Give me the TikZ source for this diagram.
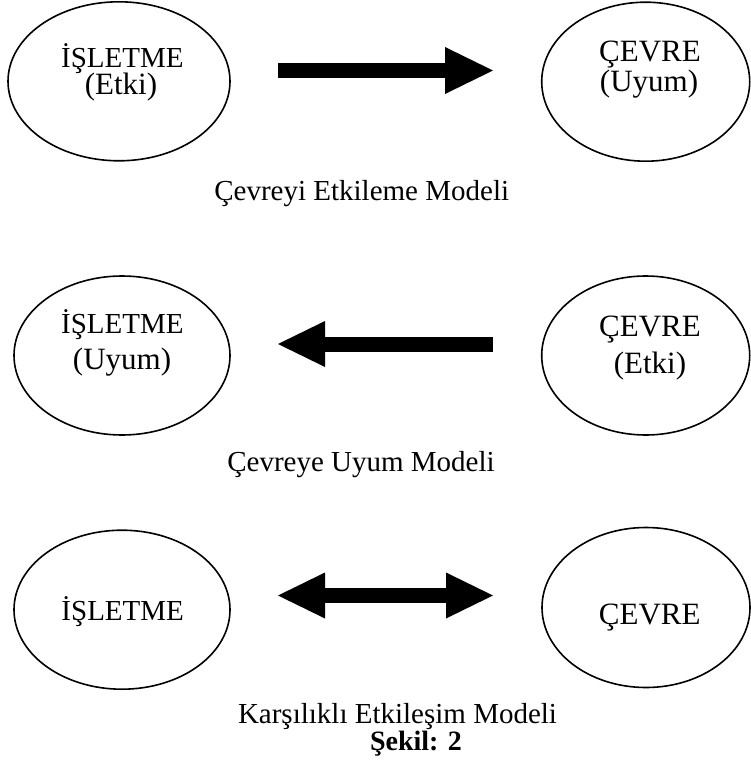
\documentclass[tikz,border=0pt]{standalone}
\usepackage{fontspec}
\setmainfont{Liberation Serif}
\usetikzlibrary{shapes.geometric,arrows.meta}
\begin{document}
\begin{tikzpicture}[x=1pt,y=-1pt,
  ell/.style={draw, ellipse, line width=1.6pt, inner sep=0pt},
  txt/.style={inner sep=0pt, anchor=base, font=\fontsize{29}{29}\selectfont},
  txtb/.style={inner sep=0pt, anchor=base, font=\fontsize{31}{31}\selectfont},
  bigarrow/.style={line width=15pt, -{Triangle[length=48pt,width=47pt,line width=0pt]}},
  bigdarrow/.style={line width=15pt, {Triangle[length=47pt,width=46pt,line width=0pt]}-{Triangle[length=47pt,width=46pt,line width=0pt]}}]
\useasboundingbox (0,0) rectangle (751,765);
% row 1
\node[ell, minimum width=222pt, minimum height=159pt] (e1) at (119,81.3) {};
\node[ell, minimum width=208pt, minimum height=159pt] (e2) at (645.7,81.7) {};
\node[txt] (t1a) at (122.4,67.3) {İŞLETME};
\node[txtb] (t1b) at (121,95) {(Etki)};
\node[txtb] (t2a) at (650,61.7) {ÇEVRE};
\node[txtb] (t2b) at (649,92) {(Uyum)};
\coordinate (a1s) at (278,70.5);
\coordinate (a1e) at (493,70.5);
\draw[bigarrow] (a1s) -- (a1e);
\node[txt] (c1) at (361.7,200.7) {Çevreyi Etkileme Modeli};
% row 2
\node[ell, minimum width=216pt, minimum height=159pt] (e3) at (122,355.5) {};
\node[ell, minimum width=208pt, minimum height=159pt] (e4) at (645.7,355.5) {};
\node[txt] (t3a) at (122.4,333.3) {İŞLETME};
\node[txtb] (t3b) at (122,369) {(Uyum)};
\node[txtb] (t4a) at (650,336.7) {ÇEVRE};
\node[txtb] (t4b) at (650,373) {(Etki)};
\coordinate (a2s) at (493,344);
\coordinate (a2e) at (278,344);
\draw[line width=15pt, -{Triangle[length=47pt,width=46pt,line width=0pt]}] (a2s) -- (a2e);
\node[txt] (c2) at (361,471.5) {Çevreye Uyum Modeli};
% row 3
\node[ell, minimum width=216pt, minimum height=159pt] (e5) at (122,609.7) {};
\node[ell, minimum width=208pt, minimum height=160pt] (e6) at (646,607.5) {};
\node[txt] (t5) at (122.7,620) {İŞLETME};
\node[txtb] (t6) at (649.7,624) {ÇEVRE};
\coordinate (a3s) at (278,595.5);
\coordinate (a3e) at (493,595.5);
\draw[bigdarrow] (a3s) -- (a3e);
\node[txt] (c3) at (397.5,723) {Karşılıklı Etkileşim Modeli};
\node[inner sep=0pt, anchor=base, font=\fontsize{28}{28}\selectfont\bfseries] (c4) at (416,750) {Şekil: 2};
\end{tikzpicture}
\end{document}
